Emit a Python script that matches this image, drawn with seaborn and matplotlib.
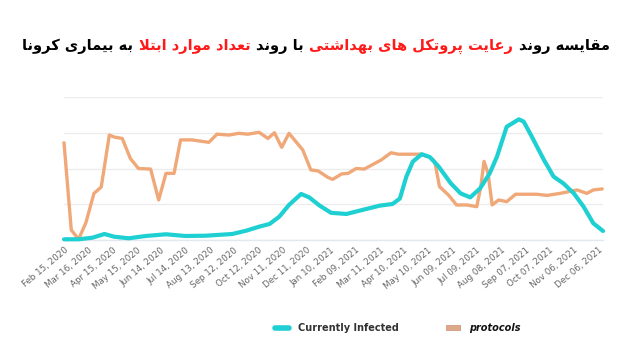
import matplotlib
matplotlib.use("Agg")
import matplotlib.pyplot as plt
from matplotlib.lines import Line2D
from matplotlib.patches import Patch
from matplotlib.offsetbox import TextArea, HPacker, AnchoredOffsetbox
import seaborn as sns
import pandas as pd

# ---------------- data ----------------
infected_dates = [
    "2020-02-15", "2020-03-04", "2020-03-21", "2020-04-05", "2020-04-17", "2020-05-05",
    "2020-05-26", "2020-06-20", "2020-07-14", "2020-08-08", "2020-09-10", "2020-09-27",
    "2020-10-13", "2020-10-26", "2020-11-07", "2020-11-19", "2020-12-04", "2020-12-14",
    "2020-12-27", "2021-01-10", "2021-01-29", "2021-02-14", "2021-03-11", "2021-03-27",
    "2021-04-05", "2021-04-13", "2021-04-21", "2021-05-02", "2021-05-12", "2021-05-23",
    "2021-06-07", "2021-06-19", "2021-07-01", "2021-07-13", "2021-07-25", "2021-08-03",
    "2021-08-15", "2021-08-22", "2021-08-30", "2021-09-05", "2021-09-15", "2021-09-30",
    "2021-10-12", "2021-10-24", "2021-11-06", "2021-11-18", "2021-11-30", "2021-12-12",
]
infected_values = [
    0.5, 0.5, 1.6, 4.2, 2.3, 1.2,
    2.8, 4.0, 2.8, 3.0, 4.2, 6.5,
    9.3, 11.2, 16.3, 24.5, 32.2, 29.8,
    24.0, 19.0, 18.2, 20.5, 24.0, 25.2,
    29.0, 44.3, 54.8, 60.0, 58.0, 51.3,
    39.6, 32.6, 29.8, 36.0, 46.6, 58.3,
    79.2, 81.6, 84.4, 82.8, 72.3, 56.0,
    44.3, 39.6, 32.6, 23.3, 11.7, 6.3,
]

protocol_dates = [
    "2020-02-15", "2020-02-24", "2020-03-04", "2020-03-13", "2020-03-23", "2020-04-01",
    "2020-04-11", "2020-04-17", "2020-04-27", "2020-05-07", "2020-05-17", "2020-06-01",
    "2020-06-11", "2020-06-20", "2020-06-30", "2020-07-08", "2020-07-22", "2020-08-12",
    "2020-08-22", "2020-09-06", "2020-09-18", "2020-09-29", "2020-10-13", "2020-10-24",
    "2020-11-01", "2020-11-10", "2020-11-19", "2020-12-06", "2020-12-16", "2020-12-25",
    "2021-01-06", "2021-01-12", "2021-01-23", "2021-01-31", "2021-02-10", "2021-02-20",
    "2021-03-13", "2021-03-25", "2021-04-03", "2021-04-30", "2021-05-12", "2021-05-18",
    "2021-05-24", "2021-06-04", "2021-06-14", "2021-06-27", "2021-07-09", "2021-07-14",
    "2021-07-18", "2021-07-23", "2021-07-28", "2021-08-05", "2021-08-15", "2021-08-26",
    "2021-09-05", "2021-09-21", "2021-10-04", "2021-10-20", "2021-11-10", "2021-11-22",
    "2021-11-30", "2021-12-11",
]
protocol_values = [
    68.0, 7.0, 0.5, 12.0, 32.6, 37.0,
    73.4, 72.0, 71.0, 57.0, 50.0, 49.6,
    28.0, 46.6, 46.6, 70.0, 70.0, 68.3,
    74.0, 73.4, 74.6, 74.0, 75.3, 71.0,
    75.0, 64.8, 74.6, 63.0, 49.0, 48.3,
    43.8, 42.4, 46.2, 46.6, 50.0, 49.6,
    56.0, 61.0, 60.0, 60.0, 58.0, 55.0,
    37.3, 31.5, 24.5, 24.5, 23.3, 37.3,
    55.0, 46.6, 24.5, 28.0, 26.8, 32.0,
    32.0, 32.0, 31.2, 32.6, 35.0, 32.6,
    35.0, 35.7,
]

tick_start = "2020-02-15"
tick_count = 23
tick_step_days = 30

title_parts = [  # (text, colour), in reading order
    ("مقایسه روند", "black"),
    ("رعایت پروتکل های بهداشتی", "#ff1a1a"),
    ("با روند", "black"),
    ("تعداد موارد ابتلا", "#ff1a1a"),
    ("به بیماری کرونا", "black"),
]

CYAN = "#1fd0d2"
ORANGE = "#f0a878"

# ------------- Persian shaping (presentation forms) -------------
FORMS = {  # isolated, final, initial, medial
    "ا": ("\uFE8D", "\uFE8E", None, None),
    "ب": ("\uFE8F", "\uFE90", "\uFE91", "\uFE92"),
    "پ": ("\uFB56", "\uFB57", "\uFB58", "\uFB59"),
    "ت": ("\uFE95", "\uFE96", "\uFE97", "\uFE98"),
    "د": ("\uFEA9", "\uFEAA", None, None),
    "ر": ("\uFEAD", "\uFEAE", None, None),
    "س": ("\uFEB1", "\uFEB2", "\uFEB3", "\uFEB4"),
    "ش": ("\uFEB5", "\uFEB6", "\uFEB7", "\uFEB8"),
    "ع": ("\uFEC9", "\uFECA", "\uFECB", "\uFECC"),
    "ق": ("\uFED5", "\uFED6", "\uFED7", "\uFED8"),
    "ک": ("\uFB8E", "\uFB8F", "\uFB90", "\uFB91"),
    "ل": ("\uFEDD", "\uFEDE", "\uFEDF", "\uFEE0"),
    "م": ("\uFEE1", "\uFEE2", "\uFEE3", "\uFEE4"),
    "ن": ("\uFEE5", "\uFEE6", "\uFEE7", "\uFEE8"),
    "و": ("\uFEED", "\uFEEE", None, None),
    "ه": ("\uFEE9", "\uFEEA", "\uFEEB", "\uFEEC"),
    "ی": ("\uFBFC", "\uFBFD", "\uFBFE", "\uFBFF"),
}


def dual(ch):
    return ch in FORMS and FORMS[ch][2] is not None


def shape(text):
    """Join Persian letters into their contextual forms and lay them out right-to-left."""
    out = []
    chars = list(text)
    i = 0
    while i < len(chars):
        ch = chars[i]
        if ch not in FORMS:
            out.append(ch)
            i += 1
            continue
        prev = chars[i - 1] if i > 0 else " "
        joins_prev = dual(prev)
        if ch == "ل" and i + 1 < len(chars) and chars[i + 1] == "ا":
            out.append("\uFEFC" if joins_prev else "\uFEFB")
            i += 2
            continue
        nxt = chars[i + 1] if i + 1 < len(chars) else " "
        joins_next = dual(ch) and nxt in FORMS
        iso, fin, ini, med = FORMS[ch]
        if joins_prev and joins_next:
            out.append(med)
        elif joins_prev:
            out.append(fin)
        elif joins_next:
            out.append(ini)
        else:
            out.append(iso)
        i += 1
    return "".join(reversed(out))


# ---------------- figure ----------------
sns.set_theme(style="white")
plt.rcParams["font.family"] = ["DejaVu Sans"]

fig = plt.figure(figsize=(6.4, 3.46), dpi=100)
ax = fig.add_axes([64 / 640, 106 / 346, (603 - 64) / 640, (240 - 97) / 346])

inf = pd.DataFrame({"date": pd.to_datetime(infected_dates), "value": infected_values})
pro = pd.DataFrame({"date": pd.to_datetime(protocol_dates), "value": protocol_values})

sns.lineplot(data=pro, x="date", y="value", ax=ax, color=ORANGE, linewidth=2.4,
             solid_joinstyle="round", solid_capstyle="round", clip_on=False, zorder=3)
sns.lineplot(data=inf, x="date", y="value", ax=ax, color=CYAN, linewidth=3.0,
             solid_joinstyle="round", solid_capstyle="round", clip_on=False, zorder=4)

ax.set_xlim(pd.Timestamp("2020-02-15"), pd.Timestamp("2021-12-12"))
ax.set_ylim(0, 100)
ax.set_yticks([0, 25, 50, 75, 100])
ax.set_yticklabels([])
ax.tick_params(axis="y", length=0)
ax.grid(axis="y", color="#ececec", linewidth=1.0)
ax.grid(axis="x", visible=False)
for side in ("top", "right", "left"):
    ax.spines[side].set_visible(False)
ax.spines["bottom"].set_color("#e3e8f0")
ax.spines["bottom"].set_linewidth(1.0)

ticks = pd.date_range(tick_start, periods=tick_count, freq=f"{tick_step_days}D")
ax.set_xticks(ticks)
ax.set_xticklabels([t.strftime("%b %d, %Y") for t in ticks], rotation=40,
                   ha="right", rotation_mode="anchor", fontsize=6.3, color="#666666")
ax.tick_params(axis="x", length=0, pad=4)
ax.set_xlabel("")
ax.set_ylabel("")

# ---------------- title ----------------
areas = []
for text, colour in reversed(title_parts):
    areas.append(TextArea(shape(text), textprops=dict(color=colour, fontsize=10.5,
                                                      fontweight="bold")))
packer = HPacker(children=areas, align="baseline", pad=0, sep=4)
anch = AnchoredOffsetbox(loc="center", child=packer, frameon=False,
                         bbox_to_anchor=(316 / 640, 1 - 46 / 346),
                         bbox_transform=fig.transFigure, borderpad=0, pad=0)
fig.add_artist(anch)

# ---------------- legend ----------------
handles = [
    Line2D([], [], color=CYAN, linewidth=4.0, solid_capstyle="round"),
    Patch(facecolor="#dea98a", edgecolor="#cf9a7c", linewidth=0.6),
]
leg = fig.legend(handles, ["Currently Infected", "protocols"], loc="center",
                 bbox_to_anchor=(398 / 640, 1 - 328 / 346), ncol=2, frameon=False,
                 handlelength=1.4, handleheight=0.5, columnspacing=4.8,
                 fontsize=7, handletextpad=1.0)
t0, t1 = leg.get_texts()
t0.set_fontweight("bold")
t0.set_color("#333333")
t1.set_fontweight("bold")
t1.set_fontstyle("italic")
t1.set_color("#111111")

fig.savefig("out.png", dpi=100)
